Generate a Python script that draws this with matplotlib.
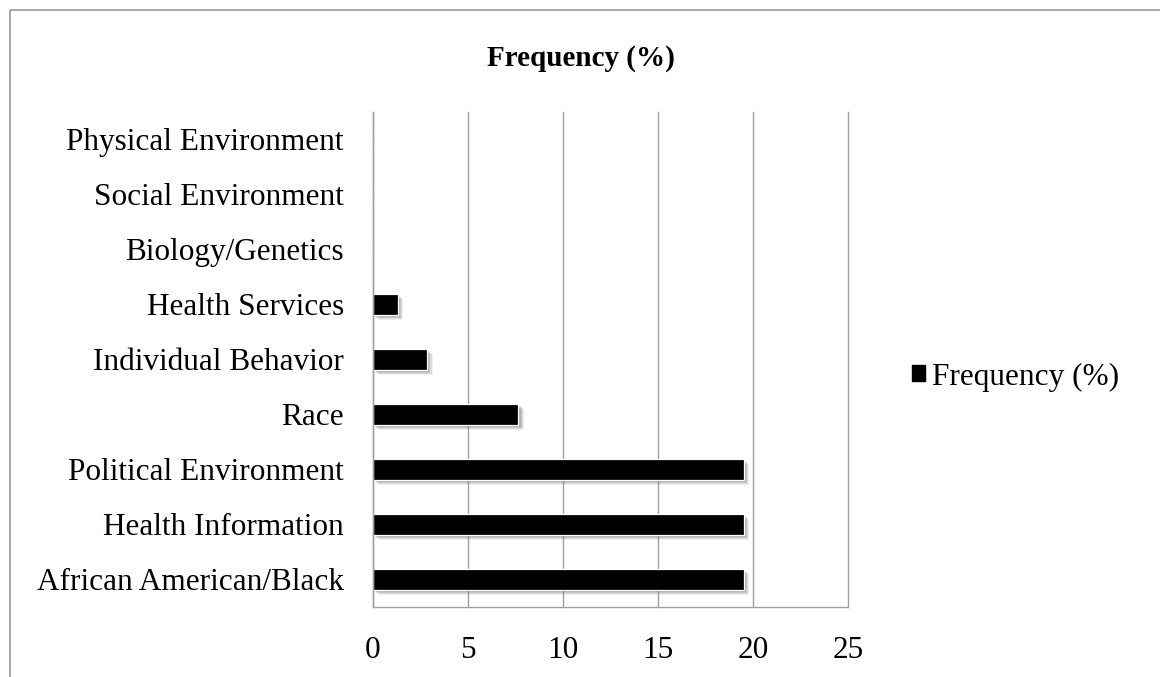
import matplotlib
matplotlib.use("Agg")
import matplotlib.pyplot as plt
from matplotlib.patches import Patch
from matplotlib.lines import Line2D
import matplotlib.patheffects as pe

plt.rcParams['font.family'] = ['Liberation Serif', 'DejaVu Serif']

categories = [
    "African American/Black",
    "Health Information",
    "Political Environment",
    "Race",
    "Individual Behavior",
    "Health Services",
    "Biology/Genetics",
    "Social Environment",
    "Physical Environment",
]
frequency = [19.5, 19.5, 19.5, 7.65, 2.85, 1.3, 0, 0, 0]
x_ticks = [0, 5, 10, 15, 20, 25]
series_name = "Frequency (%)"

W, H = 1160, 677
fig = plt.figure(figsize=(W / 100, H / 100), dpi=100)
ax = fig.add_axes([373 / W, (H - 606.7) / H, (848 - 373) / W, (606.7 - 112) / H])

grid_color = "#a0a0a0"
ypos = list(range(len(categories)))
bars = ax.barh(ypos, frequency, height=0.38, color="black",
               edgecolor="white", linewidth=0.9, zorder=3)

# soft drop shadow built from a few stacked, offset translucent copies
shadow = [pe.SimplePatchShadow(offset=(d, -d), shadow_rgbFace="#666666", alpha=a)
          for d, a in ((4.0, 0.10), (3.2, 0.14), (2.4, 0.18), (1.6, 0.22))]
for b in bars:
    b.set_path_effects(shadow + [pe.Normal()])

ax.set_xlim(0, 25)
ax.set_ylim(-0.5, len(categories) - 0.5)
ax.set_xticks(x_ticks)
ax.set_xticklabels([str(t) for t in x_ticks])
ax.set_yticks(ypos)
ax.set_yticklabels(categories)
ax.tick_params(axis="both", length=0, labelsize=22.5)
ax.tick_params(axis="y", pad=21)
ax.tick_params(axis="x", pad=21)

ax.xaxis.grid(True, color=grid_color, linewidth=1.0, zorder=0)
ax.set_axisbelow(True)
for gl in ax.get_xgridlines():
    gl.set_clip_on(False)
for side in ("top", "right"):
    ax.spines[side].set_visible(False)
for side in ("left", "bottom"):
    ax.spines[side].set_color(grid_color)
    ax.spines[side].set_linewidth(1.0)
    ax.spines[side].set_zorder(4)

fig.text(581 / W, 1 - 58 / H, series_name, ha="center", va="center",
         fontsize=21, fontweight="bold")

handle = Patch(facecolor="black", edgecolor="black")
fig.legend(handles=[handle], labels=[series_name], loc="center left",
           bbox_to_anchor=(912 / W, 1 - 377 / H), frameon=False,
           fontsize=22.5, handlelength=0.4, handleheight=0.4,
           handletextpad=0.25, borderpad=0, borderaxespad=0)

# outer chart frame (top and left edges)
frame = Line2D([9.5 / W, 9.5 / W, 1.0], [0.0, 1 - 10 / H, 1 - 10 / H],
               transform=fig.transFigure, color="#a0a0a0", linewidth=1.3)
fig.add_artist(frame)

fig.savefig("out.png", dpi=100, facecolor="white")
